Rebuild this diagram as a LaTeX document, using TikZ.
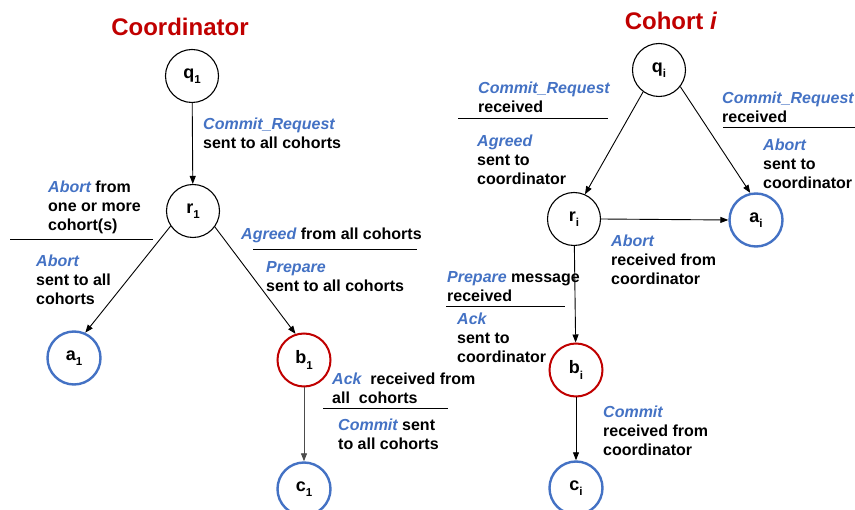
\documentclass[tikz,border=0pt]{standalone}
\usepackage{fontspec}
\setmainfont{Liberation Sans}
\usetikzlibrary{arrows.meta}
\definecolor{cblue}{RGB}{68,114,196}
\definecolor{cred}{RGB}{192,0,0}
\newcommand\sbs[1]{\raisebox{-0.3em}{\fontsize{11.5}{11.5}\selectfont #1}}
\newcommand\bl[1]{\textcolor{cblue}{\itshape #1}}
\begin{document}
\begin{tikzpicture}[x=1pt,y=-1pt,
 state/.style={circle,draw,line width=1.1pt,minimum size=53pt,inner sep=0pt,font=\fontsize{18}{18}\selectfont\bfseries},
 bstate/.style={state,draw=cblue,line width=2.4pt},
 rstate/.style={state,draw=cred,line width=2pt},
 lbl/.style={anchor=north west,inner sep=0pt,align=left,font=\fontsize{16}{19}\selectfont\bfseries},
 title/.style={font=\fontsize{24}{24}\selectfont\bfseries,text=cred,anchor=base},
 arr/.style={-{Triangle[length=8pt,width=6pt]},line width=0.9pt},
 sep/.style={line width=1pt}]
\useasboundingbox (0,0) rectangle (855,510);
% titles
\node[title] (t1) at (180,36) {Coordinator};
\node[title] (t2) at (671,30) {Cohort \textit{i}};
% coordinator states
\node[state]  (q1) at (192,76)  {q\sbs{1}};
\node[state]  (r1) at (193,211) {r\sbs{1}};
\node[bstate] (a1) at (74,358)  {a\sbs{1}};
\node[rstate] (b1) at (304,360) {b\sbs{1}};
\node[bstate] (c1) at (304,489) {c\sbs{1}};
% cohort states
\node[state]  (qi) at (659,70)  {q\sbs{i}};
\node[state]  (ri) at (574,219) {r\sbs{i}};
\node[bstate] (ai) at (756,220) {a\sbs{i}};
\node[rstate] (bi) at (576,370) {b\sbs{i}};
\node[bstate] (ci) at (576,488) {c\sbs{i}};
% arrows
\draw[arr] (q1) -- (r1);
\draw[arr] (r1.214) -- (a1.66);
\draw[arr] (r1.-36) -- (b1.108);
\draw[arr,black!70] (b1) -- (c1);
\draw[arr] (qi.234) -- (ri.66);
\draw[arr] (qi.-38) -- (ai.102);
\draw[arr] (ri.0) -- (ai.180);
\draw[arr] (ri) -- (bi);
\draw[arr] (bi) -- (ci);
% coordinator labels
\node[lbl] (l1) at (203,117.5) {\bl{Commit\_Request}\\sent to all cohorts};
\node[lbl] (l2) at (48,180.5) {\bl{Abort} from\\one or more\\cohort(s)};
\draw[sep] (10,240) -- (153,240);
\node[lbl] (l3) at (36,254.5) {\bl{Abort}\\sent to all\\cohorts};
\node[lbl] (l4) at (241,227.5) {\bl{Agreed} from all cohorts};
\draw[sep] (253,250) -- (417,250);
\node[lbl] (l5) at (266,261.5) {\bl{Prepare}\\sent to all cohorts};
\node[lbl] (l6) at (332,372.5) {\bl{Ack}\ \ received from\\all\ \ cohorts};
\draw[sep] (323,409) -- (448,409);
\node[lbl] (l7) at (338,418.5) {\bl{Commit} sent\\to all cohorts};
% cohort labels
\node[lbl] (l8) at (478,81.5) {\bl{Commit\_Request}\\received};
\draw[sep] (458,119) -- (608,119);
\node[lbl] (l9) at (477,134.5) {\bl{Agreed}\\sent to\\coordinator};
\node[lbl] (l10) at (722,91.5) {\bl{Commit\_Request}\\received};
\draw[sep] (723,128) -- (855,128);
\node[lbl] (l11) at (763,138.5) {\bl{Abort}\\sent to\\coordinator};
\node[lbl] (l12) at (611,234.5) {\bl{Abort}\\received from\\coordinator};
\node[lbl] (l13) at (447,271.5) {\bl{Prepare} message\\received};
\draw[sep] (446,307) -- (565,307);
\node[lbl] (l14) at (457,312.5) {\bl{Ack}\\sent to\\coordinator};
\node[lbl] (l15) at (603,405.5) {\bl{Commit}\\received from\\coordinator};
\end{tikzpicture}
\end{document}
